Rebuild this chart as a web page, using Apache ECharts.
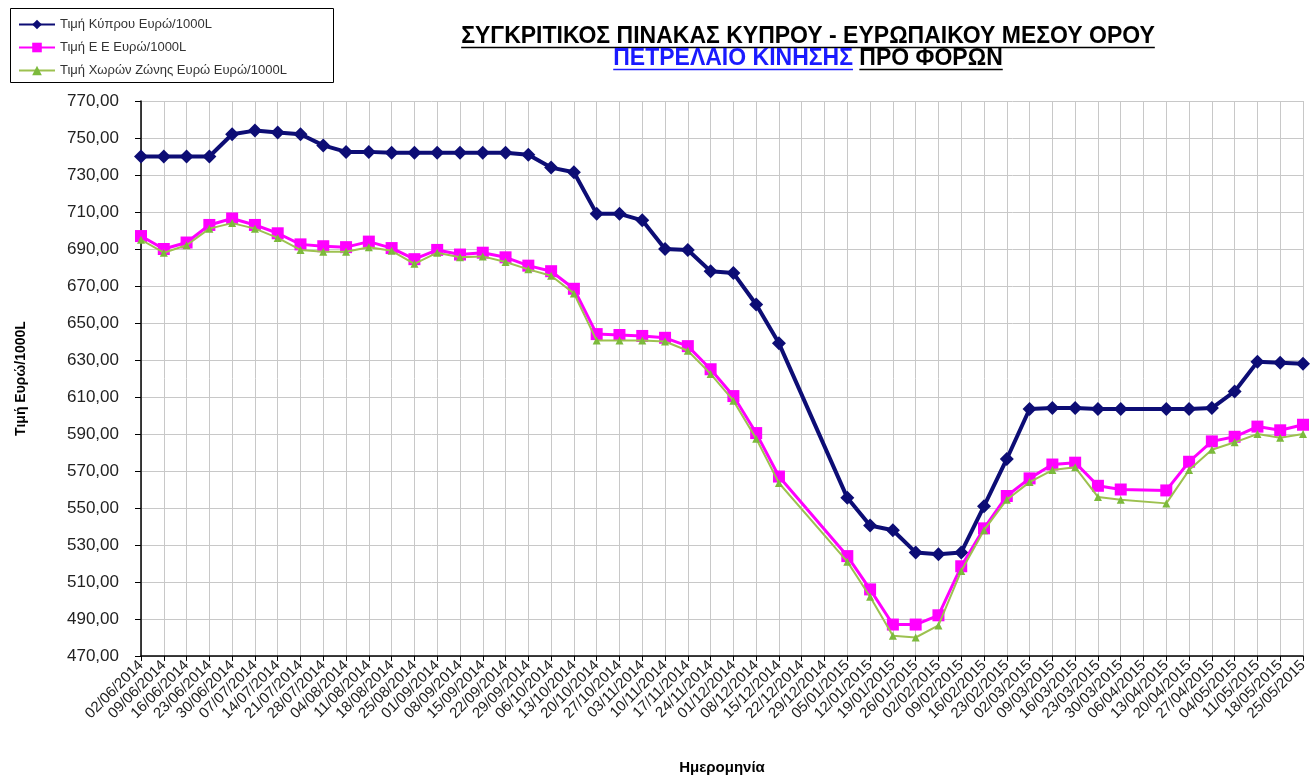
<!DOCTYPE html>
<html>
<head>
<meta charset="utf-8">
<script src="https://cdn.jsdelivr.net/npm/echarts@6/dist/echarts.min.js"></script>
<style>
html,body{margin:0;padding:0;background:#fff;}
#chart{width:1315px;height:780px;}
</style>
</head>
<body>
<div id="chart"></div>
<script>
// ---- Data ----
const categories = [
 '02/06/2014','09/06/2014','16/06/2014','23/06/2014','30/06/2014','07/07/2014','14/07/2014','21/07/2014','28/07/2014',
 '04/08/2014','11/08/2014','18/08/2014','25/08/2014','01/09/2014','08/09/2014','15/09/2014','22/09/2014','29/09/2014',
 '06/10/2014','13/10/2014','20/10/2014','27/10/2014','03/11/2014','10/11/2014','17/11/2014','24/11/2014',
 '01/12/2014','08/12/2014','15/12/2014','22/12/2014','29/12/2014','05/01/2015','12/01/2015','19/01/2015','26/01/2015',
 '02/02/2015','09/02/2015','16/02/2015','23/02/2015','02/03/2015','09/03/2015','16/03/2015','23/03/2015','30/03/2015',
 '06/04/2015','13/04/2015','20/04/2015','27/04/2015','04/05/2015','11/05/2015','18/05/2015','25/05/2015'
];
const cyprus = [
 740,740,740,740,752,754,753,752,746,742.5,742.5,742,742,742,742,742,742,741,
 734,731.5,709,709,705.5,690,689.5,678,677,660,639,null,null,555.5,540.5,538,526,
 525,526,551,576.5,603.5,604,604,603.5,603.5,null,603.5,603.5,604,613,629,628.5,628
];
const eu = [
 697,690,693.5,703,706.5,703,698.5,692.5,691.5,691,694,690.5,684.5,689.5,687,688,685.5,681,
 678,668.5,644,643.5,643,642,637.5,625,610.5,590.5,567,null,null,524,506,487,487,
 492,518.5,539,556.5,566,573.5,574.5,562,560,null,559.5,575,586,588.5,594,592,595
];
const eurozone = [
 695,688,692,701,704,701,696,689.5,688.5,688.5,691,689,682,688,685.5,686,683,679,
 675.5,666,640.5,640.5,640.5,640,635,622.5,608,587.5,563.5,null,null,521,502,481,480,
 486.5,516,538,554.5,564,570.5,572,556,554.5,null,552.5,570.5,581.5,585.5,590,588,590
];
const seriesNames = [
 'Τιμή Κύπρου Ευρώ/1000L',
 'Τιμή Ε Ε Ευρώ/1000L',
 'Τιμή Χωρών Ζώνης Ευρώ Ευρώ/1000L'
];
const titleLine1 = 'ΣΥΓΚΡΙΤΙΚΟΣ ΠΙΝΑΚΑΣ ΚΥΠΡΟΥ - ΕΥΡΩΠΑΙΚΟΥ ΜΕΣΟΥ ΟΡΟΥ';
const titleLine2a = 'ΠΕΤΡΕΛΑΙΟ ΚΙΝΗΣΗΣ';
const titleLine2b = 'ΠΡΟ ΦΟΡΩΝ';
const yAxisName = 'Τιμή Ευρώ/1000L';
const xAxisName = 'Ημερομηνία';

// ---- Title layout (measured) ----
const FONT_FAMILY = '"Liberation Sans", Arial, sans-serif';
const mctx = document.createElement('canvas').getContext('2d');
function measure(t, size){ mctx.font = 'bold ' + size + 'px ' + FONT_FAMILY; return mctx.measureText(t).width; }
const w1raw = measure(titleLine1, 20);
const tSize = Math.max(17, Math.min(23, 20 * 710 / w1raw));
const w1 = measure(titleLine1, tSize);
const wA = measure(titleLine2a, tSize);
const wSp = measure(' ', tSize);
const wB = measure(titleLine2b, tSize);
const cx = 808;
const x1 = cx - w1 / 2;
const x2 = cx - (wA + wSp + wB) / 2;
const tFont = 'bold ' + tSize.toFixed(1) + 'px ' + FONT_FAMILY;

const graphics = [
  {type:'rect', shape:{x:10.5,y:8.5,width:323,height:74}, style:{fill:'#fff',stroke:'#000',lineWidth:1}, z:0, silent:true},
  {type:'text', style:{text:titleLine1, x:x1, y:37, font:tFont, fill:'#000', textVerticalAlign:'middle', verticalAlign:'middle'}},
  {type:'line', shape:{x1:x1,y1:47.5,x2:x1+w1,y2:47.5}, style:{stroke:'#000',lineWidth:1.5}},
  {type:'text', style:{text:titleLine2a, x:x2, y:59, font:tFont, fill:'#1a1aff', textVerticalAlign:'middle', verticalAlign:'middle'}},
  {type:'line', shape:{x1:x2,y1:69.5,x2:x2+wA,y2:69.5}, style:{stroke:'#1a1aff',lineWidth:1.5}},
  {type:'text', style:{text:titleLine2b, x:x2+wA+wSp, y:59, font:tFont, fill:'#000', textVerticalAlign:'middle', verticalAlign:'middle'}},
  {type:'line', shape:{x1:x2+wA+wSp,y1:69.5,x2:x2+wA+wSp+wB,y2:69.5}, style:{stroke:'#000',lineWidth:1.5}}
];

const chart = echarts.init(document.getElementById('chart'), null, {renderer:'canvas'});
chart.setOption({
  animation:false,
  backgroundColor:'#fff',
  graphic: graphics,
  legend:{
    orient:'vertical', left:13, top:13, itemGap:10, itemWidth:36, itemHeight:12,
    textStyle:{fontSize:13, color:'#333', fontFamily:FONT_FAMILY},
    data: seriesNames, z:10
  },
  grid:{left:141, right:12, top:101, bottom:119, containLabel:false},
  xAxis:{
    type:'category', data:categories, boundaryGap:false,
    name:xAxisName, nameLocation:'middle', nameGap:104,
    nameTextStyle:{fontSize:15, fontWeight:'bold', color:'#000', fontFamily:FONT_FAMILY},
    axisLine:{lineStyle:{color:'#000', width:1.5}},
    axisTick:{show:true, interval:0, length:5, lineStyle:{color:'#000'}},
    axisLabel:{interval:0, rotate:45, fontSize:15, color:'#222', margin:7, fontFamily:FONT_FAMILY},
    splitLine:{show:true, interval:0, lineStyle:{color:'#c8c8c8', width:1}}
  },
  yAxis:{
    type:'value', min:470, max:770, interval:20,
    name:yAxisName, nameLocation:'middle', nameGap:113, nameRotate:90,
    nameTextStyle:{fontSize:14, fontWeight:'bold', color:'#000', fontFamily:FONT_FAMILY},
    axisLine:{show:true, lineStyle:{color:'#000', width:1.5}},
    axisTick:{show:true, length:6, lineStyle:{color:'#000'}},
    axisLabel:{fontSize:17, color:'#222', margin:22, fontFamily:FONT_FAMILY,
      formatter: v => v.toFixed(2).replace('.', ',')},
    splitLine:{show:true, lineStyle:{color:'#c8c8c8', width:1}}
  },
  series:[
    {name:seriesNames[0], type:'line', data:cyprus, connectNulls:true,
     symbol:'diamond', symbolSize:14, showAllSymbol:true,
     lineStyle:{color:'#0d0d75', width:4}, itemStyle:{color:'#0d0d75'}, z:3},
    {name:seriesNames[1], type:'line', data:eu, connectNulls:true,
     symbol:'rect', symbolSize:12, showAllSymbol:true,
     lineStyle:{color:'#ff00ff', width:3}, itemStyle:{color:'#ff00ff'}, z:4},
    {name:seriesNames[2], type:'line', data:eurozone, connectNulls:true,
     symbol:'triangle', symbolSize:8, showAllSymbol:true,
     lineStyle:{color:'#9dc150', width:2}, itemStyle:{color:'#7cba3c'}, z:5}
  ]
});
</script>
</body>
</html>
